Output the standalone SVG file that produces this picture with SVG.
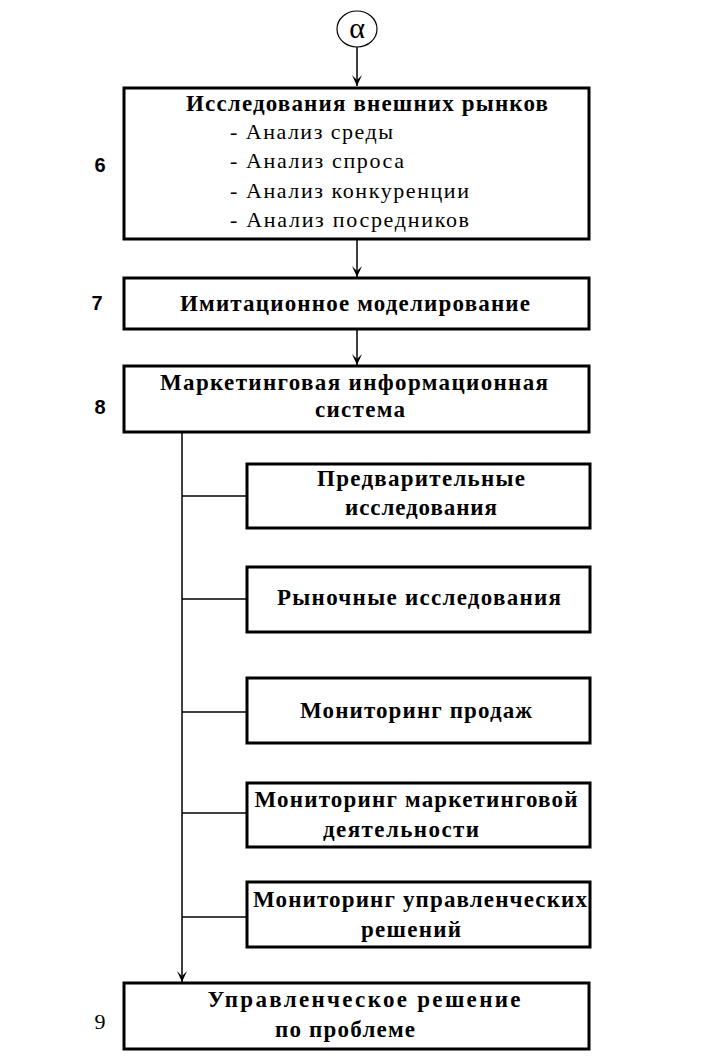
<svg xmlns="http://www.w3.org/2000/svg" width="720" height="1057" viewBox="0 0 720 1057">
<style>
.box{fill:#fff;stroke:#000;stroke-width:3}
.ln{fill:none;stroke:#000;stroke-width:1.5}
.t{font-family:"Liberation Serif","Times New Roman",serif;font-size:23px;font-weight:bold;fill:#000}
.r{font-family:"Liberation Serif","Times New Roman",serif;font-size:22px;fill:#000}
.n{font-family:"Liberation Sans",Arial,sans-serif;font-size:20px;font-weight:bold;fill:#000}
</style>
<defs>
<marker id="ar" markerWidth="12" markerHeight="10" refX="11" refY="5" orient="auto" markerUnits="userSpaceOnUse" viewBox="0 0 12 10">
<path d="M0,0 L11,5 L0,10 L5,5 Z" fill="#000"/>
</marker>
</defs>
<rect width="720" height="1057" fill="#fff"/>
<g id="connectors">
<line class="ln" x1="357" y1="47" x2="357" y2="86" marker-end="url(#ar)"/>
<line class="ln" x1="357" y1="239" x2="357" y2="277" marker-end="url(#ar)"/>
<line class="ln" x1="357" y1="329" x2="357" y2="365" marker-end="url(#ar)"/>
<line class="ln" x1="182" y1="432" x2="182" y2="982" marker-end="url(#ar)"/>
<line class="ln" x1="182" y1="496" x2="247" y2="496"/>
<line class="ln" x1="182" y1="599" x2="247" y2="599"/>
<line class="ln" x1="182" y1="712" x2="247" y2="712"/>
<line class="ln" x1="182" y1="813" x2="247" y2="813"/>
<line class="ln" x1="182" y1="917" x2="247" y2="917"/>
</g>
<g id="alpha">
<ellipse cx="357" cy="29" rx="20" ry="18" fill="#fff" stroke="#000" stroke-width="1.2"/>
<text x="357" y="38" text-anchor="middle" font-family="Liberation Serif,serif" font-size="30">α</text>
</g>
<g id="n6">
<rect class="box" x="124" y="88" width="465" height="151"/>
<text class="t" x="367" y="111" text-anchor="middle" textLength="362" lengthAdjust="spacing">Исследования внешних рынков</text>
<text class="r" x="230" y="139" textLength="163" lengthAdjust="spacing">- Анализ среды</text>
<text class="r" x="230" y="168" textLength="174" lengthAdjust="spacing">- Анализ спроса</text>
<text class="r" x="230" y="198" textLength="239" lengthAdjust="spacing">- Анализ конкуренции</text>
<text class="r" x="230" y="227" textLength="239" lengthAdjust="spacing">- Анализ посредников</text>
<text class="n" x="100" y="172" text-anchor="middle">6</text>
</g>
<g id="n7">
<rect class="box" x="124" y="278" width="465" height="51"/>
<text class="t" x="355" y="311" text-anchor="middle" textLength="350" lengthAdjust="spacing">Имитационное моделирование</text>
<text class="n" x="97" y="310" text-anchor="middle">7</text>
</g>
<g id="n8">
<rect class="box" x="124" y="366" width="465" height="66"/>
<text class="t" x="354" y="390" text-anchor="middle" textLength="388" lengthAdjust="spacing">Маркетинговая информационная</text>
<text class="t" x="360" y="417" text-anchor="middle" textLength="90" lengthAdjust="spacing">система</text>
<text class="n" x="100" y="414" text-anchor="middle">8</text>
</g>
<g id="na">
<rect class="box" x="247" y="464" width="343" height="64"/>
<text class="t" x="421" y="486" text-anchor="middle" textLength="208" lengthAdjust="spacing">Предварительные</text>
<text class="t" x="421" y="515" text-anchor="middle" textLength="152" lengthAdjust="spacing">исследования</text>
</g>
<g id="nb">
<rect class="box" x="247" y="567" width="343" height="65"/>
<text class="t" x="419" y="605" text-anchor="middle" textLength="284" lengthAdjust="spacing">Рыночные исследования</text>
</g>
<g id="nc">
<rect class="box" x="247" y="678" width="343" height="65"/>
<text class="t" x="416" y="718" text-anchor="middle" textLength="232" lengthAdjust="spacing">Мониторинг продаж</text>
</g>
<g id="nd">
<rect class="box" x="247" y="783" width="343" height="64"/>
<text class="t" x="416" y="807" text-anchor="middle" textLength="323" lengthAdjust="spacing">Мониторинг маркетинговой</text>
<text class="t" x="401" y="837" text-anchor="middle" textLength="156" lengthAdjust="spacing">деятельности</text>
</g>
<g id="ne">
<rect class="box" x="247" y="882" width="343" height="65"/>
<text class="t" x="420" y="907" text-anchor="middle" textLength="334" lengthAdjust="spacing">Мониторинг управленческих</text>
<text class="t" x="411" y="937" text-anchor="middle" textLength="100" lengthAdjust="spacing">решений</text>
</g>
<g id="n9">
<rect class="box" x="124" y="983" width="465" height="66"/>
<text class="t" x="364" y="1007" text-anchor="middle" textLength="313" lengthAdjust="spacing">Управленческое решение</text>
<text class="t" x="345" y="1037" text-anchor="middle" textLength="140" lengthAdjust="spacing">по проблеме</text>
<text class="r" x="100" y="1029" text-anchor="middle" font-size="22">9</text>
</g>
</svg>
